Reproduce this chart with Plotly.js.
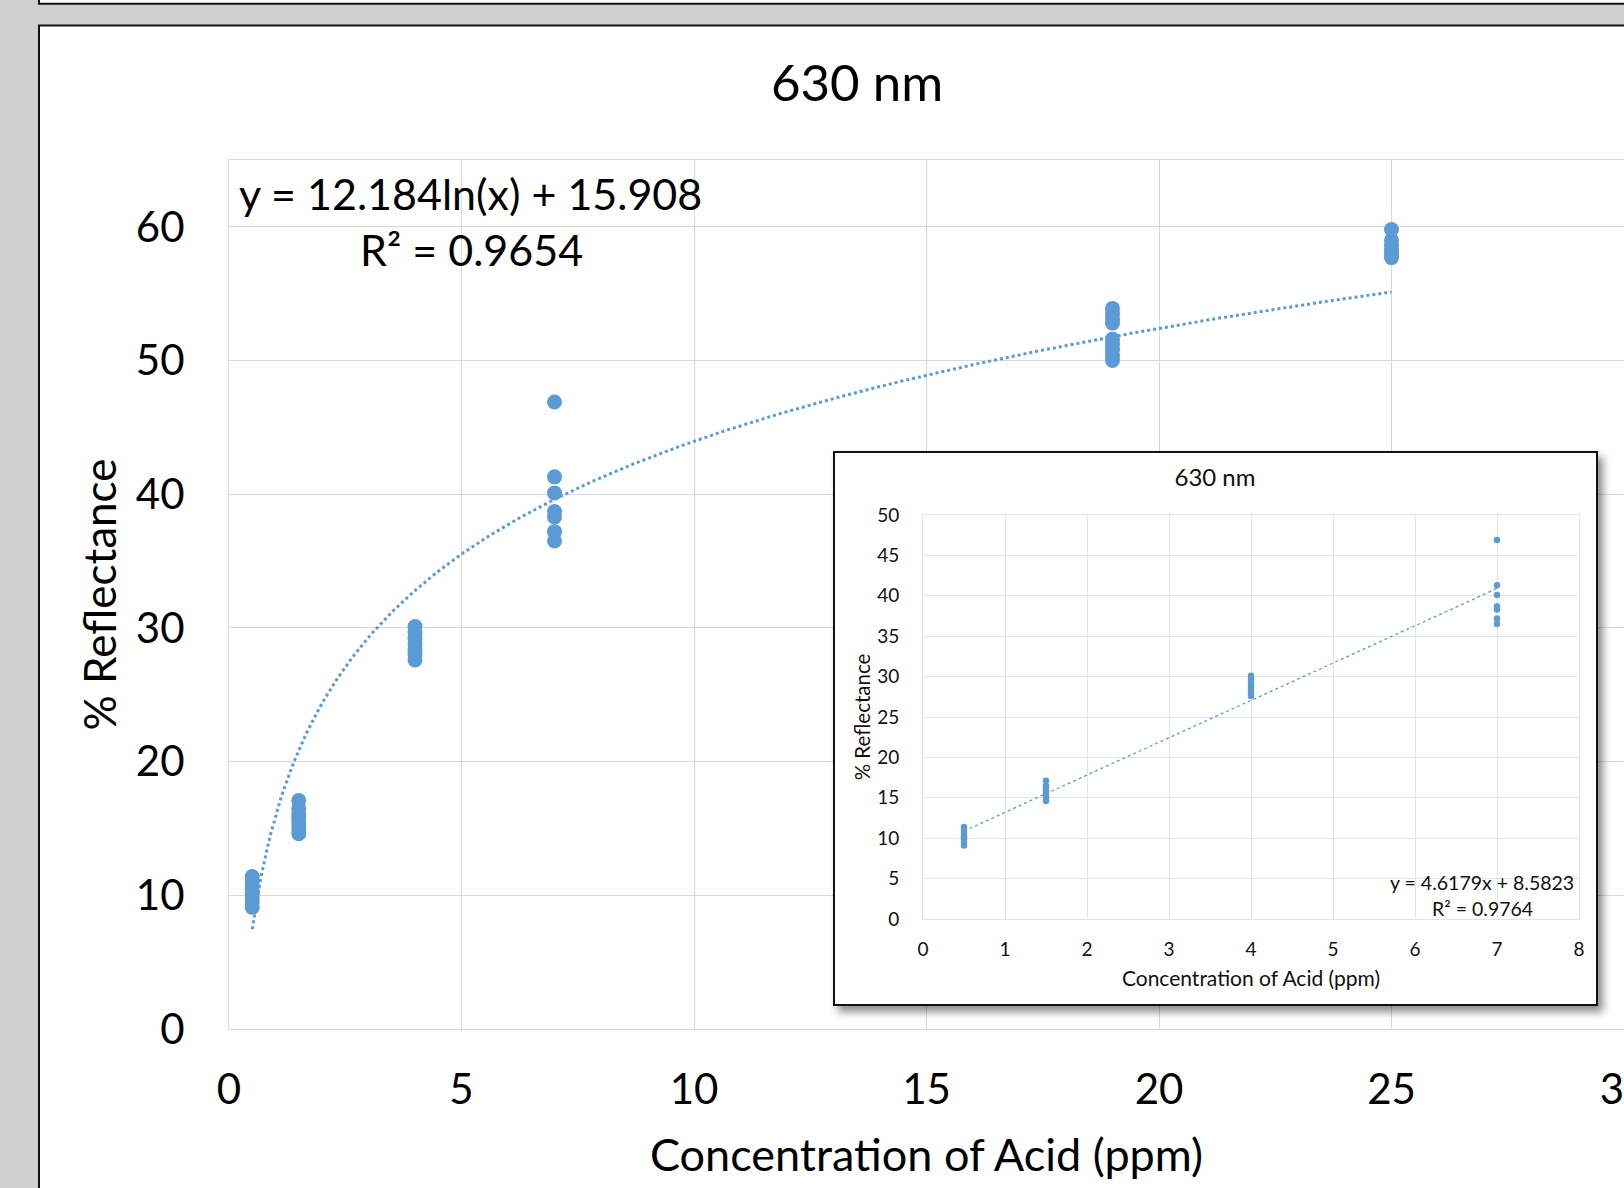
<!DOCTYPE html>
<html>
<head>
<meta charset="utf-8">
<script src="https://cdn.plot.ly/plotly-3.0.1.min.js"></script>
<style>
  html, body { margin:0; padding:0; width:1624px; height:1188px; overflow:hidden; background:#d1d0d1; }
  #main { position:absolute; left:0; top:0; width:1624px; height:1188px; }
  #insetBox { position:absolute; left:833px; top:451px; width:765px; height:555px; box-sizing:border-box;
              border:2px solid #111; background:#fff; box-shadow:5px 6px 8px rgba(0,0,0,0.45); }
  #inset { position:absolute; left:0; top:0; width:761px; height:551px; }
</style>
</head>
<body>
<div id="main"></div>
<div id="insetBox"><div id="inset"></div></div>
<script>
// ---- Data ----
const chartTitle = '630 nm';
const xTitle = 'Concentration of Acid (ppm)';
const yTitle = '% Reflectance';

const concentrations = [0.5, 1.5, 4, 7, 19, 25];
const refl_0_5 = [9.1, 9.5, 9.9, 10.2, 10.6, 11.0, 11.4];
const refl_1_5 = [14.6, 15.0, 15.4, 15.8, 16.1, 16.5, 17.1];
const refl_4   = [27.6, 28.0, 28.4, 28.8, 29.2, 29.7, 30.1];
const refl_7   = [36.5, 37.2, 38.3, 38.7, 40.1, 41.3, 46.9];
const refl_19  = [50.0, 50.4, 50.8, 51.2, 51.6, 52.8, 53.1, 53.5, 53.9];
const refl_25  = [57.7, 58.0, 58.3, 58.6, 59.0, 59.8];

// trendline coefficients as printed on the chart
const logFit = { a: 12.184, b: 15.908, r2: 0.9654 };   // y = a ln(x) + b
const linFit = { m: 4.6179, c: 8.5823, r2: 0.9764 };   // y = m x + c

const mainXTicks = [0, 5, 10, 15, 20, 25, 30];
const mainYTicks = [0, 10, 20, 30, 40, 50, 60];
const insetXTicks = [0, 1, 2, 3, 4, 5, 6, 7, 8];
const insetYTicks = [0, 5, 10, 15, 20, 25, 30, 35, 40, 45, 50];

// ---- build point arrays ----
const allGroups = [refl_0_5, refl_1_5, refl_4, refl_7, refl_19, refl_25];
function buildXY(groups, concs) {
  const xs = [], ys = [];
  groups.forEach((g, i) => g.forEach(v => { xs.push(concs[i]); ys.push(v); }));
  return { xs, ys };
}
const mainPts = buildXY(allGroups, concentrations);
const insetPts = buildXY(allGroups.slice(0, 4), concentrations.slice(0, 4));

// trendline curves from the printed fit equations
const trendX = [];
for (let x = concentrations[0]; x <= concentrations[5] + 1e-9; x += 0.05) trendX.push(+x.toFixed(3));
const trendY = trendX.map(x => logFit.a * Math.log(x) + logFit.b);
const linX = [concentrations[0], concentrations[3]];
const linY = linX.map(x => linFit.m * x + linFit.c);

const blue = '#5b9bd5';
const grid = '#d9d9d9';
const font = 'Lato, "Open Sans", sans-serif';

// ---- main chart ----
const W = 1624, H = 1188, L = 229, T = 160, B = 159, R = 0;
const pw = W - L - R, ph = H - T - B;
const px = p => (p - L) / pw;
const py = p => (H - B - p) / ph;

Plotly.newPlot('main', [
  { type:'scatter', mode:'lines', x: trendX, y: trendY, hoverinfo:'skip',
    line:{ color: blue, width: 3, dash:'dot' } },
  { type:'scatter', mode:'markers', x: mainPts.xs, y: mainPts.ys,
    marker:{ color: blue, size: 15 } }
], {
  width: W, height: H,
  paper_bgcolor:'#d1d0d1', plot_bgcolor:'rgba(0,0,0,0)',
  margin:{ l:L, r:R, t:T, b:B, pad:0 },
  font:{ family: font, color:'#000' },
  showlegend:false,
  title:{ text: chartTitle, font:{ size:51, color:'#000' }, xref:'container', x: 857/W, xanchor:'center',
          yref:'container', y: 1 - 83/H, yanchor:'middle' },
  xaxis:{ range:[0,30], tickvals: mainXTicks, showgrid:true, gridcolor:grid, gridwidth:1, zeroline:false,
          showline:true, mirror:true, linecolor:grid, linewidth:1, ticks:'', tickfont:{ size:42 },
          ticklabelstandoff: 24, ticklabeloverflow:'allow',
          title:{ text: xTitle, font:{ size:45 }, standoff: 27 } },
  yaxis:{ range:[0,65], tickvals: mainYTicks, showgrid:true, gridcolor:grid, gridwidth:1, zeroline:false,
          showline:true, mirror:true, linecolor:grid, linewidth:1, ticks:'', tickfont:{ size:42 },
          ticklabelstandoff: 35,
          title:{ text: yTitle, font:{ size:44 }, standoff: 5 } },
  shapes:[
    { type:'rect', xref:'paper', yref:'paper', layer:'below', x0: px(39), x1: px(1800), y0: py(25.5), y1: py(1400),
      fillcolor:'#fff', line:{ color:'#111', width:2 } },
    { type:'rect', xref:'paper', yref:'paper', layer:'below', x0: px(39), x1: px(1800), y0: py(-20), y1: py(3.8),
      fillcolor:'#fff', line:{ color:'#111', width:2 } }
  ],
  annotations:[
    { xref:'paper', yref:'paper', x: px(237), y: py(193), xanchor:'left', yanchor:'middle', showarrow:false,
      text: 'y = ' + logFit.a + 'ln(x) + ' + logFit.b, font:{ size:43, color:'#000' } },
    { xref:'paper', yref:'paper', x: px(471), y: py(249), xanchor:'center', yanchor:'middle', showarrow:false,
      text: 'R² = ' + logFit.r2, font:{ size:43, color:'#000' } }
  ]
}, { staticPlot:true });

// ---- inset chart ----
const iW = 761, iH = 551, iL = 88, iR = 17, iT = 62, iB = 85;
const ipw = iW - iL - iR, iph = iH - iT - iB;
const ipx = p => (p - iL) / ipw;
const ipy = p => (iH - iB - p) / iph;
const igrid = '#e4e4e4';

Plotly.newPlot('inset', [
  { type:'scatter', mode:'lines', x: linX, y: linY, hoverinfo:'skip',
    line:{ color: blue, width: 1.3, dash:'dot' } },
  { type:'scatter', mode:'markers', x: insetPts.xs, y: insetPts.ys,
    marker:{ color: blue, size: 6.5 } }
], {
  width: iW, height: iH,
  paper_bgcolor:'#fff', plot_bgcolor:'#fff',
  margin:{ l:iL, r:iR, t:iT, b:iB, pad:0 },
  font:{ family: font, color:'#111' },
  showlegend:false,
  title:{ text: chartTitle, font:{ size:24, color:'#111' }, xref:'container', x: 380/iW, xanchor:'center',
          yref:'container', y: 1 - 25/iH, yanchor:'middle' },
  xaxis:{ range:[0,8], tickvals: insetXTicks, showgrid:true, gridcolor:igrid, gridwidth:1, zeroline:false,
          showline:true, mirror:true, linecolor:igrid, linewidth:1, ticks:'', tickfont:{ size:19 },
          ticklabelstandoff: 13,
          title:{ text: xTitle, font:{ size:21 }, standoff: 12 } },
  yaxis:{ range:[0,50], tickvals: insetYTicks, showgrid:true, gridcolor:igrid, gridwidth:1, zeroline:false,
          showline:true, mirror:true, linecolor:igrid, linewidth:1, ticks:'', tickfont:{ size:19 },
          ticklabelstandoff: 19,
          title:{ text: yTitle, font:{ size:20.5 }, standoff: 0 } },
  annotations:[
    { xref:'paper', yref:'paper', x: ipx(741), y: ipy(429), xanchor:'right', yanchor:'middle', showarrow:false,
      text: 'y = ' + linFit.m + 'x + ' + linFit.c, font:{ size:19.5, color:'#111' } },
    { xref:'paper', yref:'paper', x: ipx(647), y: ipy(455), xanchor:'center', yanchor:'middle', showarrow:false,
      text: 'R² = ' + linFit.r2, font:{ size:19.5, color:'#111' } }
  ]
}, { staticPlot:true });
</script>
</body>
</html>
